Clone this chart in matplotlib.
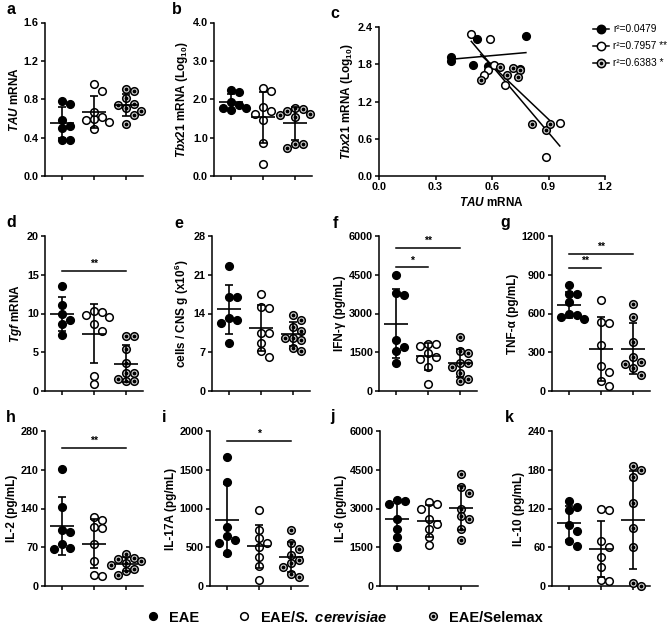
import numpy as np
import matplotlib
matplotlib.use('Agg')
import matplotlib.pyplot as plt
from matplotlib.lines import Line2D

plt.rcParams['font.family'] = ['Liberation Sans', 'DejaVu Sans']
plt.rcParams['font.weight'] = 'bold'
plt.rcParams['mathtext.fontset'] = 'custom'
plt.rcParams['mathtext.rm'] = 'Liberation Sans:bold'
plt.rcParams['mathtext.it'] = 'Liberation Sans:italic:bold'
plt.rcParams['mathtext.bf'] = 'Liberation Sans:bold'

# ---------------- data ----------------
groups = ['EAE', 'EAE/S. cerevisiae', 'EAE/Selemax']

tau_eae = [0.38, 0.38, 0.52, 0.50, 0.58, 0.78, 0.75]
tau_sc = [0.49, 0.59, 0.61, 0.58, 0.56, 0.67, 0.96, 0.885]
tau_sel = [0.54, 0.64, 0.68, 0.71, 0.75, 0.81, 0.885, 0.91, 0.74]

tbx_eae = [1.92, 1.85, 2.20, 1.78, 1.77, 2.25, 1.72]
tbx_sc = [2.29, 2.21, 1.79, 1.70, 1.62, 1.47, 0.85, 0.31]
tbx_sel = [1.54, 1.76, 1.62, 1.74, 1.70, 0.84, 0.74, 0.83, 1.60]

r2_labels = ['r²=0.0479', 'r²=0.7957 **', 'r²=0.6383 *']

tgf_eae = [13.6, 11.1, 10.0, 9.1, 8.7, 7.2]
tgf_sc = [10.3, 10.2, 9.8, 9.5, 8.6, 7.8, 1.9, 0.9]
tgf_sel = [7.1, 7.1, 5.4, 3.6, 2.3, 2.3, 1.3, 1.3, 1.5]

cells_eae = [22.5, 17.0, 17.0, 13.1, 12.8, 12.2, 8.7]
cells_sc = [17.5, 15.2, 15.0, 10.5, 10.5, 8.7, 7.2, 6.1]
cells_sel = [13.7, 12.9, 11.5, 10.8, 9.6, 9.3, 9.6, 7.8, 7.2]

ifn_eae = [4480, 3790, 3720, 1960, 1700, 1565, 1070]
ifn_sc = [1830, 1760, 1830, 1490, 1230, 1330, 940, 290]
ifn_sel = [2090, 1565, 1490, 1100, 1070, 700, 910, 390, 480]

tnf_eae = [822, 752, 752, 687, 595, 590, 556, 575]
tnf_sc = [704, 538, 530, 357, 194, 150, 80, 41]
tnf_sel = [670, 574, 378, 266, 222, 209, 176, 124]

il2_eae = [211, 143, 102, 98, 75, 68, 66]
il2_sc = [125, 120, 107, 104, 75, 45, 20, 18]
il2_sel = [57, 50, 48, 45, 42, 38, 30, 28, 20]

il17_eae = [1660, 1340, 760, 640, 600, 560, 430]
il17_sc = [980, 720, 620, 560, 500, 380, 260, 80]
il17_sel = [720, 560, 480, 400, 340, 300, 250, 150, 120]

il6_eae = [3330, 3300, 3190, 2600, 2200, 1900, 1500]
il6_sc = [3250, 3190, 3000, 2600, 2400, 2200, 1900, 1600]
il6_sel = [4340, 3830, 3600, 3000, 2700, 2600, 2200, 1800]

il10_eae = [131, 122, 118, 95, 85, 70, 62]
il10_sc = [120, 118, 70, 60, 45, 30, 10, 8]
il10_sel = [186, 179, 169, 129, 90, 60, 5, 0]

# ---------------- layout helpers ----------------
W, H = 667, 633
fig = plt.figure(figsize=(W / 100, H / 100), dpi=100)


def add_ax(x0, ytop, x1, ybot):
    return fig.add_axes([x0 / W, 1 - ybot / H, (x1 - x0) / W, (ybot - ytop) / H])


SPINE_LW = 1.1
FACE = ['black', 'white', '#d2d2d2']
TICK_FS = 7.8
LAB_FS = 8.5


def style_axes(ax):
    for s in ['top', 'right']:
        ax.spines[s].set_visible(False)
    for s in ['left', 'bottom']:
        ax.spines[s].set_linewidth(SPINE_LW)
    ax.tick_params(width=SPINE_LW, length=3, labelsize=TICK_FS, pad=1.5)
    for lab in ax.get_xticklabels() + ax.get_yticklabels():
        lab.set_fontweight('bold')


def swarm_offsets(vals, px_per_y, px_per_x, step=7.6):
    vals = np.asarray(vals, float)
    order = np.argsort(vals)[::-1]
    placed = []
    offs = np.zeros(len(vals))
    cands = [0]
    for k in range(1, 6):
        cands += [k, -k]
    for i in order:
        ypx = vals[i] * px_per_y
        xpx = 0.0
        for c in cands:
            xpx = c * step
            if all((xpx - px) ** 2 + (ypx - py) ** 2 >= step ** 2 for px, py in placed):
                break
        placed.append((xpx, ypx))
        offs[i] = xpx / px_per_x
    return offs


def draw_markers(ax, x, y, g, s=30):
    ax.scatter(x, y, s=s, marker='o', facecolor=FACE[g], edgecolor='black',
               linewidths=1.1, zorder=3, clip_on=False)
    if g == 2:
        ax.scatter(x, y, s=3, marker='o', color='black', zorder=4, clip_on=False)


def dot_panel(box, data, ymax, ystep, fmt, ylabel, letter, lxy, sigs=()):
    x0, ytop, x1, ybot = box
    ax = add_ax(x0, ytop, x1, ybot)
    xlim = (-0.53, 2.53)
    ax.set_xlim(*xlim)
    ax.set_ylim(0, ymax)
    px_per_y = (ybot - ytop) / ymax
    px_per_x = (x1 - x0) / (xlim[1] - xlim[0])
    for g, vals in enumerate(data):
        vals = np.asarray(vals, float)
        offs = swarm_offsets(vals, px_per_y, px_per_x)
        draw_markers(ax, g + offs, vals, g)
        m, sd = vals.mean(), vals.std(ddof=1)
        ax.hlines(m, g - 0.36, g + 0.36, color='black', lw=1.2, zorder=5)
        ax.errorbar(g, m, yerr=sd, color='black', lw=1.2, capsize=2.6,
                    capthick=1.2, zorder=5)
    ax.set_xticks([0, 1, 2])
    ax.set_xticklabels([])
    ticks = np.arange(0, ymax + ystep / 2, ystep)
    ax.set_yticks(ticks)
    ax.set_yticklabels([fmt.format(t) for t in ticks])
    ax.set_ylabel(ylabel, fontsize=LAB_FS, fontweight='bold', labelpad=2)
    style_axes(ax)
    for (ga, gb, yy, txt) in sigs:
        ax.plot([ga, gb], [yy, yy], color='black', lw=1.1, zorder=5)
        ax.text((ga + gb) / 2, yy + ymax * 0.012, txt, ha='center', va='bottom',
                fontsize=7.5, fontweight='bold')
    fig.text(lxy[0] / W, 1 - lxy[1] / H, letter, fontsize=11.5, fontweight='bold',
             ha='center', va='center')
    return ax


# ---------------- panels ----------------
dot_panel((45, 22.5, 143, 176), [tau_eae, tau_sc, tau_sel], 1.6, 0.4, '{:.1f}',
          r'$\mathit{TAU}$ mRNA', 'a', (11, 9))
dot_panel((214, 22.5, 312, 176), [tbx_eae, tbx_sc, tbx_sel], 4.0, 1.0, '{:.1f}',
          r'$\mathit{Tbx21}$ mRNA (Log$_{10}$)', 'b', (177, 9))

# panel c: scatter + regression
axc = add_ax(379, 27, 605, 176)
axc.set_xlim(0, 1.2)
axc.set_ylim(0, 2.4)
handles = []
for g, (xs, ys) in enumerate([(tau_eae, tbx_eae), (tau_sc, tbx_sc), (tau_sel, tbx_sel)]):
    xs = np.asarray(xs); ys = np.asarray(ys)
    draw_markers(axc, xs, ys, g)
    k, b0 = np.polyfit(xs, ys, 1)
    xx = np.array([xs.min(), xs.max()])
    axc.plot(xx, k * xx + b0, color='black', lw=1.1, zorder=2)
    ln = Line2D([], [], color='black', lw=1.1, marker='o', markersize=6,
                markerfacecolor=FACE[g], markeredgecolor='black', markeredgewidth=1.1)
    if g == 2:
        dot = Line2D([], [], linestyle='none', marker='o', markersize=1.6, color='black')
        handles.append((ln, dot))
    else:
        handles.append(ln)
axc.set_xticks(np.arange(0, 1.21, 0.3))
axc.set_xticklabels(['{:.1f}'.format(t) for t in np.arange(0, 1.21, 0.3)])
axc.set_yticks(np.arange(0, 2.41, 0.6))
axc.set_yticklabels(['{:.1f}'.format(t) for t in np.arange(0, 2.41, 0.6)])
axc.set_xlabel(r'$\mathit{TAU}$ mRNA', fontsize=LAB_FS, fontweight='bold', labelpad=3)
axc.set_ylabel(r'$\mathit{Tbx21}$ mRNA (Log$_{10}$)', fontsize=LAB_FS, fontweight='bold', labelpad=2)
style_axes(axc)
leg = axc.legend(handles, r2_labels, loc='upper left', bbox_to_anchor=(588 / W, 1 - 19 / H),
                 bbox_transform=fig.transFigure, frameon=False,
                 handlelength=1.6, handletextpad=0.4, labelspacing=0.7, borderpad=0,
                 prop={'weight': 'normal', 'size': 7.3})
fig.text(335 / W, 1 - 13 / H, 'c', fontsize=11.5, fontweight='bold', ha='center', va='center')

dot_panel((45, 236, 143, 391), [tgf_eae, tgf_sc, tgf_sel], 20, 5, '{:.0f}',
          r'$\mathit{Tgf}$ mRNA', 'd', (11, 222), sigs=[(0, 2, 15.5, '**')])
dot_panel((212, 236, 310, 391), [cells_eae, cells_sc, cells_sel], 28, 7, '{:.0f}',
          r'cells / CNS g (x10$^{6}$)', 'e', (179, 223))
dot_panel((379, 236, 477, 391), [ifn_eae, ifn_sc, ifn_sel], 6000, 1500, '{:.0f}',
          'IFN-γ (pg/mL)', 'f', (335, 223),
          sigs=[(0, 1, 4790, '*'), (0, 2, 5540, '**')])
dot_panel((552, 236, 650, 391), [tnf_eae, tnf_sc, tnf_sel], 1200, 300, '{:.0f}',
          'TNF-α (pg/mL)', 'g', (505, 222),
          sigs=[(0, 1, 955, '**'), (0, 2, 1064, '**')])

dot_panel((45, 431, 143, 586), [il2_eae, il2_sc, il2_sel], 280, 70, '{:.0f}',
          'IL-2 (pg/mL)', 'h', (11, 417), sigs=[(0, 2, 250, '**')])
dot_panel((210, 431, 308, 586), [il17_eae, il17_sc, il17_sel], 2000, 500, '{:.0f}',
          'IL-17A (pg/mL)', 'i', (164, 417), sigs=[(0, 2, 1870, '*')])
dot_panel((380, 431, 478, 586), [il6_eae, il6_sc, il6_sel], 6000, 1500, '{:.0f}',
          'IL-6 (pg/mL)', 'j', (333, 417))
dot_panel((552, 431, 650, 586), [il10_eae, il10_sc, il10_sel], 240, 60, '{:.0f}',
          'IL-10 (pg/mL)', 'k', (509, 417))

# ---------------- bottom legend ----------------
bh = []
for g in range(3):
    m = Line2D([], [], linestyle='none', marker='o', markersize=5.5,
               markerfacecolor=FACE[g], markeredgecolor='black', markeredgewidth=1.1)
    if g == 2:
        d = Line2D([], [], linestyle='none', marker='o', markersize=1.5, color='black')
        bh.append((m, d))
    else:
        bh.append(m)
blabels = ['EAE', r'EAE/$\mathit{S.\ cerevisiae}$', 'EAE/Selemax']
fig.legend(bh, blabels, loc='center', bbox_to_anchor=(344 / W, 1 - 617 / H),
           ncol=3, frameon=False, handlelength=1.0, handletextpad=0.6,
           columnspacing=2.6, prop={'weight': 'bold', 'size': 10.5})

fig.savefig('out.png', dpi=100)
